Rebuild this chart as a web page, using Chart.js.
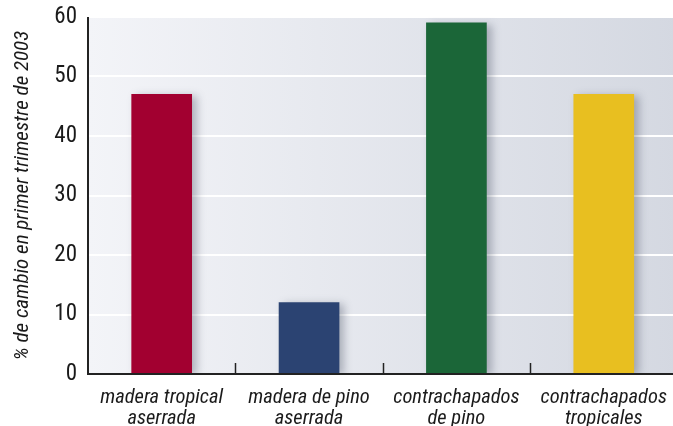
<!DOCTYPE html>
<html>
<head>
<meta charset="utf-8">
<script src="https://cdn.jsdelivr.net/npm/chart.js@4/dist/chart.umd.min.js"></script>
<style>
  html, body { margin: 0; padding: 0; background: #fff; overflow: hidden; }
  #wrap { width: 680px; height: 426px; }
</style>
</head>
<body>
<div id="wrap"><canvas id="myChart" width="680" height="426"></canvas></div>
<script>
// categorias y valores
const categorias = [
    ['madera tropical', 'aserrada'],
    ['madera de pino', 'aserrada'],
    ['contrachapados', 'de pino'],
    ['contrachapados', 'tropicales']
];
const valores = [47, 12, 59, 47];
const colores = ['#A20030', '#2B4372', '#1B6638', '#E8BF20'];
const tituloY = '% de cambio en primer trimestre de 2003';

const fuente = "'Liberation Sans Narrow', 'Roboto Condensed', 'Liberation Sans', sans-serif";

// fondo degradado + sombras de las barras + marcas del eje x
const fondoPlugin = {
    id: 'fondo',
    beforeDraw(chart) {
        const { ctx, chartArea: a } = chart;
        const g = ctx.createLinearGradient(a.left, 0, a.right, 0);
        g.addColorStop(0, '#F3F4F8');
        g.addColorStop(1, '#D4D8E1');
        ctx.save();
        ctx.fillStyle = g;
        ctx.fillRect(a.left, a.top, a.right - a.left, a.bottom - a.top);
        ctx.restore();
    },
    beforeDatasetsDraw(chart) {
        const ctx = chart.ctx;
        ctx.save();
        ctx.shadowColor = 'rgba(60, 70, 90, 0.35)';
        ctx.shadowBlur = 8;
        ctx.shadowOffsetX = 5;
        ctx.shadowOffsetY = 2;
    },
    afterDatasetsDraw(chart) {
        const { ctx, chartArea: a, scales } = chart;
        ctx.restore();
        ctx.save();
        // ejes
        ctx.strokeStyle = '#222';
        ctx.lineWidth = 2;
        ctx.beginPath();
        ctx.moveTo(a.left, a.top);
        ctx.lineTo(a.left, a.bottom);
        ctx.lineTo(a.right, a.bottom);
        ctx.stroke();
        // marcas entre categorias
        ctx.lineWidth = 1.5;
        for (let i = 0; i < categorias.length - 1; i++) {
            const x = (scales.x.getPixelForValue(i) + scales.x.getPixelForValue(i + 1)) / 2;
            ctx.beginPath();
            ctx.moveTo(Math.round(x) + 0.5, a.bottom - 11);
            ctx.lineTo(Math.round(x) + 0.5, a.bottom);
            ctx.stroke();
        }
        ctx.restore();
    }
};

var ctx = document.getElementById('myChart').getContext('2d');
var myChart = new Chart(ctx, {
    type: 'bar',
    data: {
        labels: categorias,
        datasets: [{
            data: valores,
            backgroundColor: colores,
            borderWidth: 0,
            barThickness: 60
        }]
    },
    options: {
        responsive: false,
        animation: false,
        layout: { padding: { top: 17, right: 0, left: 10, bottom: 0 } },
        plugins: {
            legend: { display: false },
            tooltip: { enabled: false }
        },
        scales: {
            x: {
                grid: { display: false, drawTicks: false },
                border: { display: false },
                ticks: {
                    color: '#1a1a1a',
                    font: { family: fuente, size: 20.5, style: 'italic', lineHeight: 1.05 },
                    padding: 13,
                    maxRotation: 0,
                    autoSkip: false
                },
                afterFit(scale) { scale.height = 52; }
            },
            y: {
                min: 0,
                max: 60,
                grid: { color: '#FFFFFF', lineWidth: 2, drawTicks: false },
                border: { display: false },
                ticks: {
                    stepSize: 10,
                    color: '#1a1a1a',
                    font: { family: fuente, size: 23, lineHeight: 1 },
                    padding: 11
                },
                title: {
                    display: true,
                    text: tituloY,
                    color: '#1a1a1a',
                    font: { family: fuente, size: 21, style: 'italic' },
                    padding: { top: 0, bottom: 2 }
                },
                afterFit(scale) {
                    scale.width = 78;
                    scale.paddingTop = 0;
                    scale.paddingBottom = 0;
                }
            }
        }
    },
    plugins: [fondoPlugin]
});
</script>
</body>
</html>
